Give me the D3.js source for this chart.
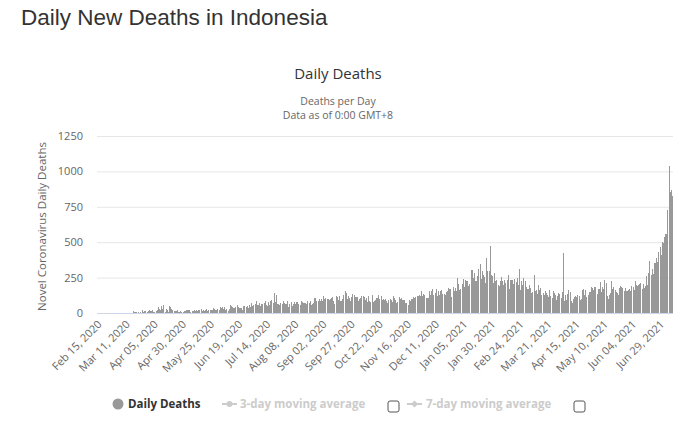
<!DOCTYPE html>
<html>
<head>
<meta charset="utf-8">
<script src="https://d3js.org/d3.v7.min.js"></script>
<style>
  body { margin: 0; background: #fff; }
  svg { display: block; font-family: "Open Sans", "DejaVu Sans", sans-serif; }
</style>
</head>
<body>
<svg id="chart" width="700" height="430"></svg>
<script>
// daily deaths from Feb 15, 2020 to Jul 10, 2021
var startDate = "2020-02-15";
var dailyDeaths = [
  // Feb 2020 (15-29)
  0,0,0,0,0,0,0,0,0,0,0,0,0,0,0,
  // Mar 2020
  0,0,0,0,0,0,0,0,0,0, 1,0,3,1,0,0,2,12,6,7, 6,10,1,6,3,20,9,15,12,8, 14,
  // Apr 2020
  21,13,11,21,10,7,12,19,40,26, 21,47,26,60,10,27,24,8,47,45, 28,24,12,13,15,18,8,8,11,8,
  // May 2020
  7,17,15,20,22,19,21,8,16,13, 20,12,23,14,18,21,28,16,18,16, 24,26,17,23,23,21,19,35,29,24, 18,
  // Jun 2020
  31,22,40,34,41,30,41,18,25,16, 30,59,49,40,33,33,39,53,41,34, 36,35,20,51,50,41,50,37,58,40,
  // Jul 2020
  68,49,60,67,82,53,58,70,52,65, 62,68,87,58,50,76,59,87,89,70, 139,80,127,61,65,57,74,64,86,74, 61,
  // Aug 2020
  62,84,43,66,79,50,67,77,61,79, 81,65,57,82,75,70,72,69,65,85, 68,82,53,61,73,106,105,85,82,100, 85,
  // Sep 2020
  101,87,117,98,104,102,102,89,100,106, 112,84,61,117,110,91,118,88,82,96, 124,157,144,96,121,109,87,115,131,128,
  // Oct 2020
  116,116,114,84,98,107,123,122,114,91, 105,79,117,85,77,128,79,85,94,106, 105,128,102,118,89,98,95,101,86,71, 94,
  // Nov 2020
  98,89,79,118,109,93,74,78,114,100, 104,94,90,95,74,73,55,91,86,100, 97,110,104,110,119,122,130,123,158,118,
  // Dec 2020
  136,124,107,109,109,154,129,156,171,127, 142,169,123,158,130,155,165,137,133,124, 148,153,179,173,167,115,184,155,176,153, 248,
  // Jan 2021
  207,162,170,203,238,187,233,224,229,189, 202,302,306,245,279,228,224,262,308,346, 238,294,267,254,210,387,299,297,476,269, 263,
  // Feb 2021
  213,285,229,234,199,190,224,255,225,201, 236,215,234,270,172,235,230,232,206,238, 216,250,200,310,162,223,195,244,
  // Mar 2021
  227,186,171,166,200,178,144,147,270,158, 159,132,195,160,179,127,143,129,153,144, 124,114,161,122,108,152,144,128,91,123, 142,
  // Apr 2021
  134,103,149,423,87,126,92,132,163,146, 82,74,98,112,117,115,125,123,93,99, 163,166,129,159,112,126,146,150,181,176,
  // May 2021
  165,182,186,131,171,166,216,145,186,173, 235,211,117,102,124,141,223,172,187,162, 146,143,125,176,191,183,175,154,179,154, 158,
  // Jun 2021
  163,171,158,193,185,160,227,195,188,201, 204,209,168,208,174,193,262,196,285,364, 271,309,274,355,351,389,362,429,466,412,
  // Jul 2021 (1-10)
  504,491,539,555,558,728,1040,852,871,826
];
var tickLabels = ["Feb 15, 2020","Mar 11, 2020","Apr 05, 2020","Apr 30, 2020","May 25, 2020",
  "Jun 19, 2020","Jul 14, 2020","Aug 08, 2020","Sep 02, 2020","Sep 27, 2020","Oct 22, 2020",
  "Nov 16, 2020","Dec 11, 2020","Jan 05, 2021","Jan 30, 2021","Feb 24, 2021","Mar 21, 2021",
  "Apr 15, 2021","May 10, 2021","Jun 04, 2021","Jun 29, 2021"];
var yTicks = [0, 250, 500, 750, 1000, 1250];
var legendNames = ["Daily Deaths", "3-day moving average", "7-day moving average"];

var parse = d3.timeParse("%Y-%m-%d"),
    fmt = d3.timeFormat("%b %d, %Y");
var categories = dailyDeaths.map(function(d, i) {
  return fmt(d3.timeDay.offset(parse(startDate), i));
});

var plot = {left: 97, right: 673, top: 136, bottom: 313};
var svg = d3.select("#chart");

// page heading
svg.append("text")
  .attr("x", 21).attr("y", 25)
  .style("font-family", "'Liberation Sans', Arial, sans-serif")
  .style("font-size", "22.5px").attr("fill", "#333")
  .text("Daily New Deaths in Indonesia");

// chart titles
svg.append("text").attr("x", 338).attr("y", 79).attr("text-anchor", "middle")
  .style("font-size", "15px").attr("fill", "#333").text("Daily Deaths");
svg.append("text").attr("x", 338).attr("y", 105).attr("text-anchor", "middle")
  .style("font-size", "10.5px").attr("fill", "#666").text("Deaths per Day");
svg.append("text").attr("x", 338).attr("y", 119).attr("text-anchor", "middle")
  .style("font-size", "10.5px").attr("fill", "#666").text("Data as of 0:00 GMT+8");

var x = d3.scaleBand().domain(categories)
  .range([plot.left, plot.right]).paddingInner(0.1).paddingOuter(0.05);
var y = d3.scaleLinear().domain([0, 1250]).range([plot.bottom, plot.top]);

// grid + y labels
var yAxis = d3.axisLeft(y).tickValues(yTicks).tickFormat(d3.format("d"))
  .tickSize(-(plot.right - plot.left)).tickPadding(14);
var yg = svg.append("g").attr("transform", "translate(" + plot.left + ",0)").call(yAxis);
yg.select(".domain").remove();
yg.selectAll(".tick line").attr("stroke", "#e6e6e6");
yg.selectAll(".tick text").attr("fill", "#666").style("font-size", "11px")
  .style("font-family", "'Open Sans', sans-serif");

svg.append("text")
  .attr("transform", "translate(46," + ((plot.top + plot.bottom) / 2 + 2) + ") rotate(-90)")
  .attr("text-anchor", "middle").style("font-size", "11.5px").attr("fill", "#666")
  .text("Novel Coronavirus Daily Deaths");

// bars
svg.append("g").selectAll("rect")
  .data(dailyDeaths)
  .enter().append("rect")
  .attr("x", function(d, i) { return x(categories[i]); })
  .attr("y", function(d) { return y(d); })
  .attr("width", x.bandwidth())
  .attr("height", function(d) { return plot.bottom - y(d); })
  .attr("fill", "#999")
  .attr("shape-rendering", "crispEdges");

// x axis line
svg.append("line").attr("x1", plot.left).attr("x2", plot.right)
  .attr("y1", plot.bottom + 0.5).attr("y2", plot.bottom + 0.5)
  .attr("stroke", "#ccd6eb");

// x labels
var xAxis = d3.axisBottom(x).tickValues(tickLabels).tickSize(0).tickPadding(0);
var xg = svg.append("g").attr("transform", "translate(0," + plot.bottom + ")").call(xAxis);
xg.select(".domain").remove();
xg.selectAll(".tick text")
  .attr("fill", "#666").style("font-size", "11px")
  .style("font-family", "'Open Sans', sans-serif")
  .attr("text-anchor", "end").attr("dy", null).attr("y", null)
  .attr("transform", "translate(5,12) rotate(-45)");

// legend
var lg = svg.append("g").style("font-size", "11.5px").style("font-weight", "bold");
lg.append("circle").attr("cx", 118).attr("cy", 404).attr("r", 5.5).attr("fill", "#999");
lg.append("text").attr("x", 128).attr("y", 408).attr("fill", "#333").text(legendNames[0]);

lg.append("line").attr("x1", 222).attr("x2", 237).attr("y1", 404).attr("y2", 404)
  .attr("stroke", "#ccc").attr("stroke-width", 2);
lg.append("circle").attr("cx", 229.5).attr("cy", 404).attr("r", 3).attr("fill", "#ccc");
lg.append("text").attr("x", 240).attr("y", 408).attr("fill", "#ccc").text(legendNames[1]);
lg.append("rect").attr("x", 388).attr("y", 401).attr("width", 11).attr("height", 11)
  .attr("rx", 2).attr("fill", "#fff").attr("stroke", "#555");

lg.append("line").attr("x1", 407).attr("x2", 422).attr("y1", 404).attr("y2", 404)
  .attr("stroke", "#ccc").attr("stroke-width", 2);
lg.append("path").attr("d", "M414.5,400.5 L418,404 L414.5,407.5 L411,404 Z").attr("fill", "#ccc");
lg.append("text").attr("x", 426).attr("y", 408).attr("fill", "#ccc").text(legendNames[2]);
lg.append("rect").attr("x", 574).attr("y", 401).attr("width", 11).attr("height", 11)
  .attr("rx", 2).attr("fill", "#fff").attr("stroke", "#555");
</script>
</body>
</html>
